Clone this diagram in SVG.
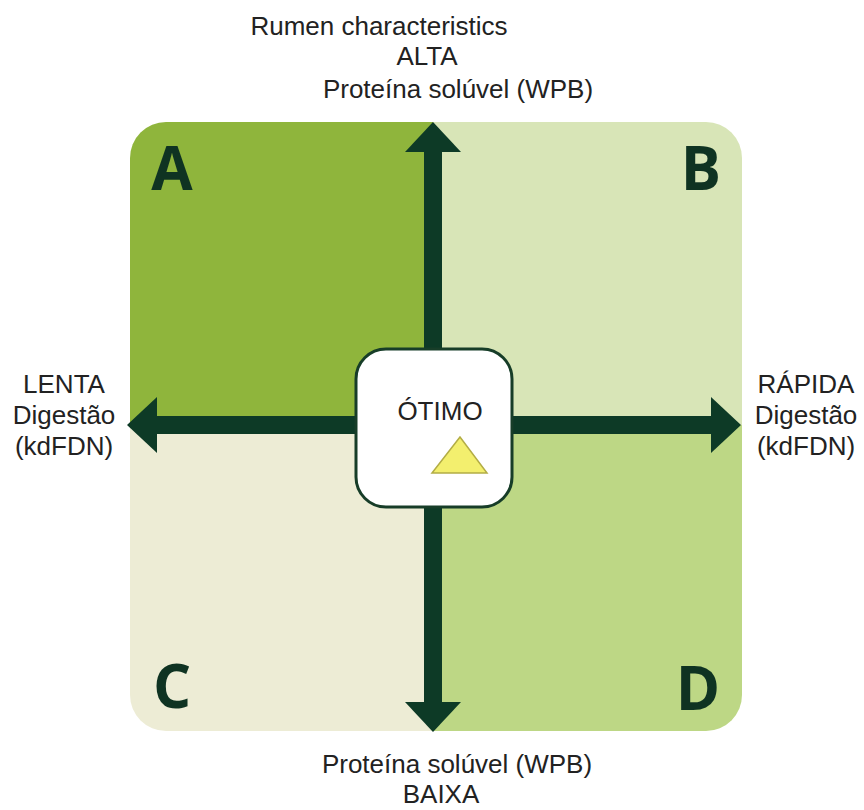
<svg xmlns="http://www.w3.org/2000/svg" width="864" height="810" viewBox="0 0 864 810">
<defs>
<style>
.lbl{font-family:"Liberation Sans",Arial,sans-serif;font-size:26px;fill:#222;text-anchor:middle}
.q{font-family:"Open Sans","Liberation Sans",sans-serif;font-weight:700;font-size:60px;fill:#0f3322;text-anchor:middle}
.shaft{stroke:#0d3a26;stroke-width:18;fill:none}
</style>
<clipPath id="sq"><rect x="130" y="122" width="612" height="609" rx="36" ry="36"/></clipPath>
<marker id="ah" markerUnits="userSpaceOnUse" markerWidth="30" markerHeight="56" viewBox="0 0 30 56" refX="0" refY="28" orient="auto">
<path d="M0,0 L30,28 L0,56 Z" fill="#0d3a26"/>
</marker>
</defs>
<rect width="864" height="810" fill="#fff"/>
<g id="quadrants" clip-path="url(#sq)">
<rect id="qA" x="130" y="122" width="303" height="303" fill="#8fb53c"/>
<rect id="qB" x="433" y="122" width="309" height="303" fill="#d8e5b7"/>
<rect id="qC" x="130" y="425" width="303" height="306" fill="#edecd5"/>
<rect id="qD" x="433" y="425" width="309" height="306" fill="#bdd785"/>
</g>
<g id="letters">
<text class="q" x="172" y="190">A</text>
<text class="q" x="701" y="190">B</text>
<text class="q" x="172" y="708">C</text>
<text class="q" x="698" y="710">D</text>
</g>
<g id="connectors">
<line class="shaft" x1="433" y1="425" x2="433" y2="152" marker-end="url(#ah)"/>
<line class="shaft" x1="433" y1="425" x2="433" y2="702" marker-end="url(#ah)"/>
<line class="shaft" x1="433" y1="425" x2="157" y2="425" marker-end="url(#ah)"/>
<line class="shaft" x1="433" y1="425" x2="711" y2="425" marker-end="url(#ah)"/>
</g>
<g id="center">
<rect x="356" y="349" width="156" height="158" rx="30" ry="30" fill="#fff" stroke="#173d28" stroke-width="3"/>
<text class="lbl" x="440" y="420" font-size="25">ÓTIMO</text>
<polygon points="460,437 432,473 487,473" fill="#f3ef6e" stroke="#b3ad45" stroke-width="1.5"/>
</g>
<g id="top-label">
<text class="lbl" x="379" y="35">Rumen characteristics</text>
<text class="lbl" x="427" y="65">ALTA</text>
<text class="lbl" x="458" y="98">Proteína solúvel (WPB)</text>
</g>
<g id="bottom-label">
<text class="lbl" x="457" y="773" font-size="25">Proteína solúvel (WPB)</text>
<text class="lbl" x="441" y="803" font-size="24">BAIXA</text>
</g>
<g id="left-label">
<text class="lbl" x="64" y="393">LENTA</text>
<text class="lbl" x="64" y="424">Digestão</text>
<text class="lbl" x="64" y="455">(kdFDN)</text>
</g>
<g id="right-label">
<text class="lbl" x="806" y="393">RÁPIDA</text>
<text class="lbl" x="806" y="424">Digestão</text>
<text class="lbl" x="806" y="455">(kdFDN)</text>
</g>
</svg>
